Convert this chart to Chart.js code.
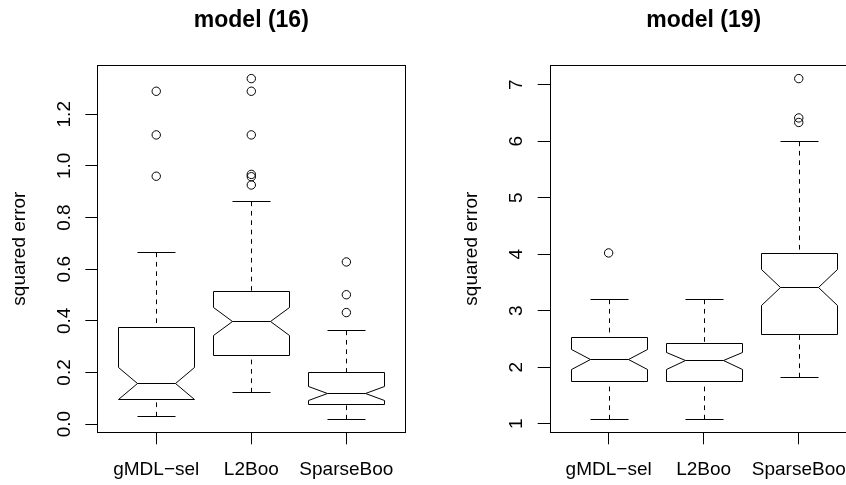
<!DOCTYPE html>
<html><head><meta charset="utf-8">
<script src="https://cdn.jsdelivr.net/npm/chart.js@4.4.1/dist/chart.umd.min.js"></script>
<style>
html,body{margin:0;padding:0;background:#fff;}
#wrap{position:relative;width:846px;height:485px;overflow:hidden;background:#fff;}
.pane{position:absolute;top:0;height:485px;}
</style></head><body>
<div id="wrap">
<div class="pane" style="left:0;width:423px"><canvas id="c16" width="423" height="485"></canvas></div>
<div class="pane" style="left:423px;width:440px"><canvas id="c19" width="440" height="485"></canvas></div>
</div>
<script>
// ---- data ----
const categories = ['gMDL\u2212sel', 'L2Boo', 'SparseBoo'];

// model (16)
const m16WhiskerLow  = [0.031, 0.126, 0.021];
const m16Q1          = [0.099, 0.269, 0.079];
const m16Median      = [0.159, 0.400, 0.120];
const m16Q3          = [0.376, 0.517, 0.201];
const m16WhiskerHigh = [0.665, 0.864, 0.365];
const m16NotchLow    = [0.097, 0.345, 0.092];
const m16NotchHigh   = [0.222, 0.453, 0.148];
const m16Outliers    = [[1.289, 1.120, 0.960], [1.338, 1.289, 1.120, 0.967, 0.958, 0.926], [0.628, 0.501, 0.432]];
const m16Ticks       = [0.0, 0.2, 0.4, 0.6, 0.8, 1.0, 1.2];
const m16TickLabels  = ['0.0', '0.2', '0.4', '0.6', '0.8', '1.0', '1.2'];

// model (19)
const m19WhiskerLow  = [1.088, 1.088, 1.830];
const m19Q1          = [1.753, 1.753, 2.578];
const m19Median      = [2.148, 2.124, 3.413];
const m19Q3          = [2.530, 2.419, 4.021];
const m19WhiskerHigh = [3.208, 3.208, 6.005];
const m19NotchLow    = [1.975, 1.975, 3.092];
const m19NotchHigh   = [2.321, 2.270, 3.739];
const m19Outliers    = [[4.021], [], [7.106, 6.410, 6.330]];
const m19Ticks       = [1, 2, 3, 4, 5, 6, 7];
const m19TickLabels  = ['1', '2', '3', '4', '5', '6', '7'];

// ---- rendering ----
const FONT = "'Liberation Sans', Arial, Helvetica, sans-serif";
const TICK_SIZE = 19;

function measure(text, size, weight) {
  const c = document.createElement('canvas').getContext('2d');
  c.font = (weight || 'normal') + ' ' + size + 'px ' + FONT;
  return c.measureText(text).width;
}

function makeChart(id, title, s, ticks, tickLabels, padLeft, padRight) {
  const all = [].concat(s.lo, s.hi, ...s.out);
  const dmin = Math.min(...all), dmax = Math.max(...all);
  const ext = (dmax - dmin) * 0.04;
  const points = [];
  s.out.forEach((arr, i) => arr.forEach(v => points.push({x: i + 1, y: v})));
  const widest = Math.max(...tickLabels.map(t => measure(t, TICK_SIZE)));
  const yTickPad = 20.8 - widest / 2;

  const boxPlugin = {
    id: 'notchedBoxes',
    afterDatasetsDraw(chart) {
      const {ctx, chartArea: a, scales: {x, y}} = chart;
      const P = v => Math.round(v) + 0.5;
      ctx.save();
      ctx.strokeStyle = '#000';
      ctx.lineWidth = 1;
      const line = (x1, y1, x2, y2) => { ctx.beginPath(); ctx.moveTo(x1, y1); ctx.lineTo(x2, y2); ctx.stroke(); };
      categories.forEach((c, i) => {
        const k = i + 1;
        const cx = P(x.getPixelForValue(k));
        const xl = P(x.getPixelForValue(k - 0.4)), xr = P(x.getPixelForValue(k + 0.4));
        const xnl = P(x.getPixelForValue(k - 0.2)), xnr = P(x.getPixelForValue(k + 0.2));
        const yLo = P(y.getPixelForValue(s.lo[i])), yHi = P(y.getPixelForValue(s.hi[i]));
        const yQ1 = P(y.getPixelForValue(s.q1[i])), yQ3 = P(y.getPixelForValue(s.q3[i]));
        const yMed = P(y.getPixelForValue(s.med[i]));
        const yNL = P(y.getPixelForValue(s.nlo[i])), yNH = P(y.getPixelForValue(s.nhi[i]));
        // whiskers (dashed)
        ctx.setLineDash([4.7, 4.7]);
        line(cx, yHi, cx, yQ3);
        line(cx, yLo, cx, yQ1);
        ctx.setLineDash([]);
        // staples
        line(xnl, yHi, xnr, yHi);
        line(xnl, yLo, xnr, yLo);
        // notched box
        ctx.beginPath();
        ctx.moveTo(xl, yQ1);
        ctx.lineTo(xl, yNL);
        ctx.lineTo(xnl, yMed);
        ctx.lineTo(xl, yNH);
        ctx.lineTo(xl, yQ3);
        ctx.lineTo(xr, yQ3);
        ctx.lineTo(xr, yNH);
        ctx.lineTo(xnr, yMed);
        ctx.lineTo(xr, yNL);
        ctx.lineTo(xr, yQ1);
        ctx.closePath();
        ctx.stroke();
        // median
        line(xnl, yMed, xnr, yMed);
      });
      // frame
      const L = Math.round(a.left) + 0.5, T = Math.round(a.top) + 0.5;
      const R = Math.round(a.right) + 0.5, B = Math.round(a.bottom) + 0.5;
      ctx.strokeRect(L, T, R - L, B - T);
      ctx.restore();
    }
  };

  return new Chart(document.getElementById(id), {
    type: 'scatter',
    data: {
      datasets: [{
        data: points,
        pointStyle: 'circle',
        pointRadius: 4.2,
        pointBorderWidth: 1,
        pointBorderColor: '#000',
        pointBackgroundColor: 'rgba(0,0,0,0)',
        showLine: false
      }]
    },
    options: {
      responsive: false,
      animation: false,
      devicePixelRatio: 1,
      events: [],
      layout: {padding: {left: padLeft, right: padRight, top: 0, bottom: 0}},
      plugins: {
        legend: {display: false},
        tooltip: {enabled: false},
        title: {
          display: true, text: title, fullSize: false, color: '#000',
          font: {family: FONT, size: 23, weight: 'bold', lineHeight: 1.2},
          padding: {top: 6.7, bottom: 30.7}
        }
      },
      scales: {
        x: {
          type: 'linear', min: 0.38, max: 3.62,
          afterBuildTicks: sc => { sc.ticks = categories.map((c, i) => ({value: i + 1})); },
          afterFit: sc => { sc.height = 52.7; },
          ticks: {
            callback: (v) => categories[Math.round(v) - 1],
            autoSkip: false, maxRotation: 0, minRotation: 0,
            color: '#000', padding: 14.3,
            font: {family: FONT, size: TICK_SIZE, lineHeight: 1.2}
          },
          grid: {drawOnChartArea: false, drawTicks: true, tickLength: 12, color: '#000', lineWidth: 1},
          border: {display: false}
        },
        y: {
          type: 'linear', min: dmin - ext, max: dmax + ext,
          afterBuildTicks: sc => { sc.ticks = ticks.map(v => ({value: v})); },
          afterFit: sc => { sc.width = 97.3; },
          ticks: {
            callback: (v, i) => tickLabels[i],
            minRotation: 90, maxRotation: 90, crossAlign: 'center',
            autoSkip: false, color: '#000', padding: yTickPad,
            font: {family: FONT, size: TICK_SIZE, lineHeight: 1.2}
          },
          grid: {drawOnChartArea: false, drawTicks: true, tickLength: 12, color: '#000', lineWidth: 1},
          border: {display: false},
          title: {
            display: true, text: 'squared error', color: '#000',
            font: {family: FONT, size: TICK_SIZE, lineHeight: 1.2},
            padding: {top: 7.9, bottom: 0}
          }
        }
      }
    },
    plugins: [boxPlugin]
  });
}

makeChart('c16', 'model (16)', {
  lo: m16WhiskerLow, q1: m16Q1, med: m16Median, q3: m16Q3, hi: m16WhiskerHigh,
  nlo: m16NotchLow, nhi: m16NotchHigh, out: m16Outliers
}, m16Ticks, m16TickLabels, 0, 17.7);

makeChart('c19', 'model (19)', {
  lo: m19WhiskerLow, q1: m19Q1, med: m19Median, q3: m19Q3, hi: m19WhiskerHigh,
  nlo: m19NotchLow, nhi: m19NotchHigh, out: m19Outliers
}, m19Ticks, m19TickLabels, 29.4, 5.3);
</script>
</body></html>
